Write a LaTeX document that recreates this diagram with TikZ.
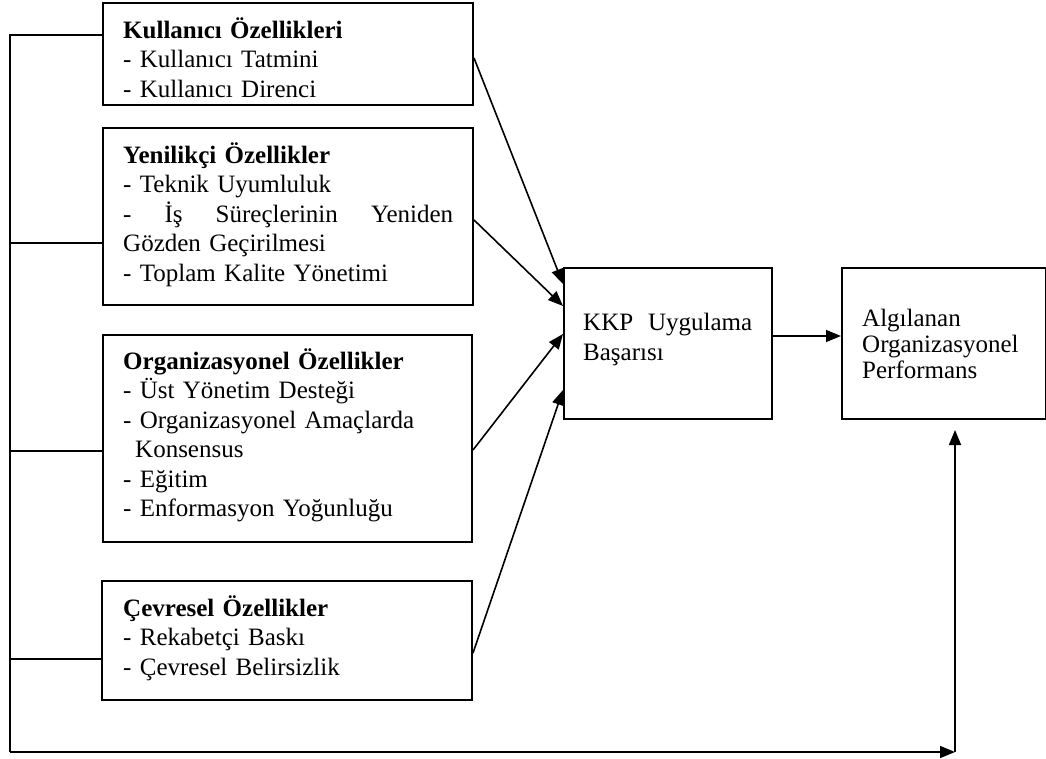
\documentclass[tikz,border=0pt]{standalone}
\usepackage{fontspec}
\setmainfont{Liberation Serif}
\usetikzlibrary{arrows.meta,calc}
\begin{document}
\begin{tikzpicture}[x=1pt,y=-1pt,
  boxn/.style={draw, line width=2pt, rectangle, anchor=north west, inner sep=0pt},
  txt/.style={anchor=north west, inner sep=0pt, align=left, font=\fontsize{25}{29.5}\selectfont},
  conn/.style={line width=1.6pt},
  arr/.style={line width=1.6pt, -{Triangle[length=15pt,width=12pt]}}]
\useasboundingbox (0,0) rectangle (1046,759);
% boxes
\node[boxn, minimum width=370pt, minimum height=102pt] (b1) at (102,2) {};
\node[boxn, minimum width=370pt, minimum height=177pt] (b2) at (102,127) {};
\node[boxn, minimum width=369pt, minimum height=207pt] (b3) at (102,334) {};
\node[boxn, minimum width=370pt, minimum height=119pt] (b4) at (101,580) {};
\node[boxn, minimum width=208pt, minimum height=151pt] (kkp) at (563,267) {};
\node[boxn, minimum width=204pt, minimum height=151pt] (alg) at (841,267) {};
% texts
\node[txt, text width=340pt] (t1) at (123,14) {\rule{0pt}{24pt}\textbf{Kullanıcı Özellikleri}\\- Kullanıcı Tatmini\\- Kullanıcı Direnci};
\node[txt, text width=340pt] (t2) at (123,139) {\rule{0pt}{24pt}\textbf{Yenilikçi Özellikler}\\- Teknik Uyumluluk\\\makebox[330pt][l]{-\hfill İş\hfill Süreçlerinin\hfill Yeniden}\\Gözden Geçirilmesi\\- Toplam Kalite Yönetimi};
\node[txt, text width=340pt] (t3) at (123,345) {\rule{0pt}{24pt}\textbf{Organizasyonel Özellikler}\\- Üst Yönetim Desteği\\- Organizasyonel Amaçlarda\\\hspace*{12pt}Konsensus\\- Eğitim\\- Enformasyon Yoğunluğu};
\node[txt, text width=340pt] (t4) at (123,592) {\rule{0pt}{24pt}\textbf{Çevresel Özellikler}\\- Rekabetçi Baskı\\- Çevresel Belirsizlik};
\node[txt, text width=180pt, font=\fontsize{25}{30}\selectfont] (t5) at (583,306) {\rule{0pt}{24pt}\makebox[169pt][l]{KKP\hfill Uygulama}\\Başarısı};
\node[txt, text width=180pt, font=\fontsize{25}{26}\selectfont] (t6) at (862,302) {\rule{0pt}{24pt}Algılanan\\Organizasyonel\\Performans};
% left bus
\coordinate (bl) at (10,752);
\coordinate (corner) at (955,752);
\coordinate (j1) at ([yshift=-33pt]b1.north west);
\coordinate (j2) at ([yshift=-116pt]b2.north west);
\coordinate (j3) at ([yshift=-117pt]b3.north west);
\coordinate (j4) at ([yshift=-79pt]b4.north west);
\draw[conn] (j1) -| (bl);
\draw[conn] (j2) -- (j2 -| bl);
\draw[conn] (j3) -- (j3 -| bl);
\draw[conn] (j4) -- (j4 -| bl);
\draw[arr] (bl) -- (corner);
\coordinate (algs) at ([yshift=-10pt]alg.south);
\draw[arr] (corner) -- (algs -| corner);
% arrows into KKP
\draw[arr] ([yshift=-56pt]b1.north east) -- ([yshift=-17pt]kkp.north west);
\draw[arr] ([yshift=-93pt]b2.north east) -- ([yshift=-39pt]kkp.north west);
\draw[arr] ([yshift=-116pt]b3.north east) -- ([yshift=-67pt]kkp.north west);
\draw[arr] ([yshift=-73pt]b4.north east) -- ([yshift=-123pt]kkp.north west);
% KKP -> Alg
\draw[arr] ([yshift=7.5pt]kkp.east) -- ([yshift=7.5pt]alg.west);
\end{tikzpicture}
\end{document}
